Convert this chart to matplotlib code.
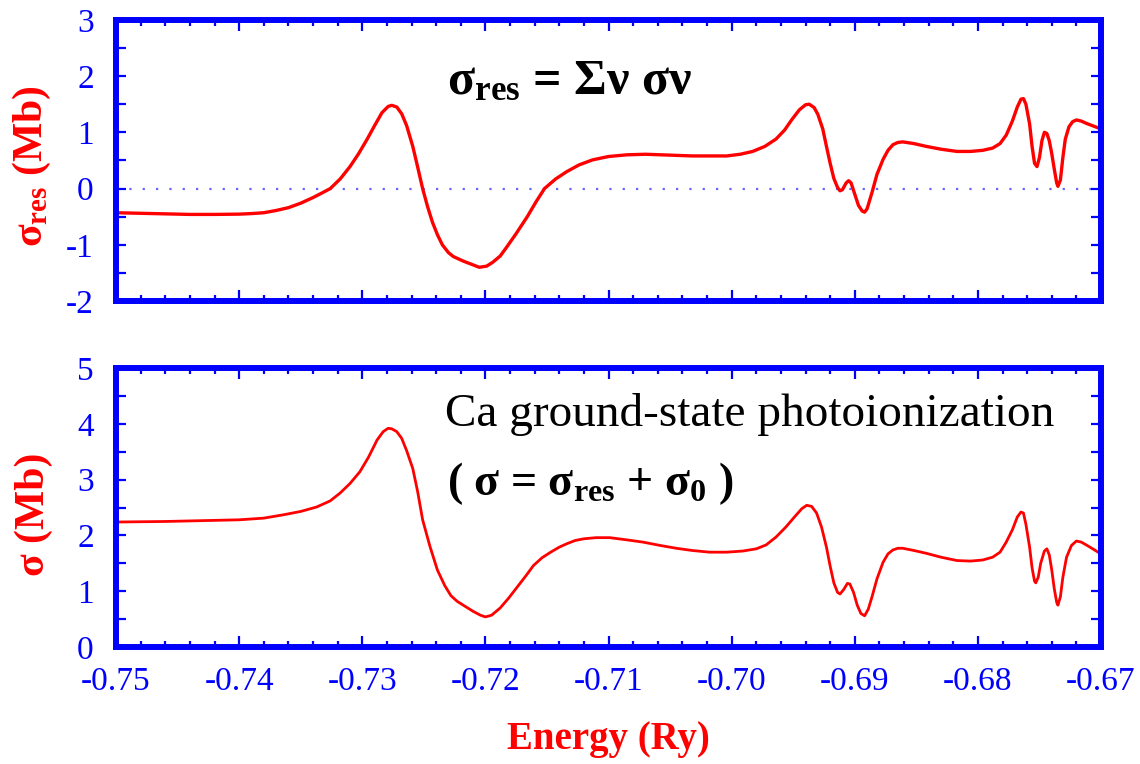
import matplotlib
matplotlib.use("Agg")
import matplotlib.pyplot as plt
from matplotlib.ticker import MultipleLocator, FormatStrFormatter

plt.rcParams['font.family'] = ['Liberation Serif', 'DejaVu Serif']
plt.rcParams['mathtext.fontset'] = 'custom'
plt.rcParams['mathtext.rm'] = 'Liberation Serif'
plt.rcParams['mathtext.bf'] = 'Liberation Serif:bold'
plt.rcParams['mathtext.it'] = 'Liberation Serif:italic'
plt.rcParams['axes.unicode_minus'] = False

# ---- data ----
energy_res = [-0.7500, -0.7480, -0.7460, -0.7440, -0.7420, -0.7400, -0.7390, -0.7380,
              -0.7370, -0.7360, -0.7350, -0.7340, -0.7332, -0.7326, -0.7318, -0.7310,
              -0.7303, -0.7296, -0.7290, -0.7284, -0.7279, -0.7276, -0.7272, -0.7268,
              -0.7264, -0.7259, -0.7255, -0.7251, -0.7247, -0.7243, -0.7239, -0.7235,
              -0.7230, -0.7226, -0.7222, -0.7218, -0.7212, -0.7205, -0.7199, -0.7194,
              -0.7188, -0.7183, -0.7175, -0.7166, -0.7159, -0.7152, -0.7143, -0.7134,
              -0.7124, -0.7113, -0.7100, -0.7085, -0.7070, -0.7058, -0.7045, -0.7032,
              -0.7018, -0.7004, -0.6993, -0.6983, -0.6973, -0.6964, -0.6957, -0.6951,
              -0.6945, -0.6940, -0.6937, -0.6933, -0.6930, -0.6926, -0.6923, -0.6920,
              -0.6917, -0.6914, -0.6912, -0.6910, -0.6907, -0.6905, -0.6903, -0.6900,
              -0.6897, -0.6894, -0.6892, -0.6890, -0.6886, -0.6882, -0.6877, -0.6873,
              -0.6869, -0.6865, -0.6861, -0.6852, -0.6842, -0.6830, -0.6817, -0.6806,
              -0.6796, -0.6788, -0.6782, -0.6777, -0.6772, -0.6768, -0.6765, -0.6763,
              -0.6761, -0.6758, -0.6756, -0.6754, -0.6752, -0.6750, -0.6748, -0.6746,
              -0.6744, -0.6742, -0.6740, -0.6738, -0.6736, -0.6735, -0.6733, -0.6731,
              -0.6729, -0.6726, -0.6723, -0.6720, -0.6716, -0.6712, -0.6706, -0.6701,
              -0.6700]
sigma_res = [-0.43, -0.44, -0.45, -0.46, -0.46, -0.455, -0.445, -0.43,
             -0.39, -0.34, -0.26, -0.16, -0.07, 0.00, 0.17, 0.39,
             0.62, 0.88, 1.12, 1.35, 1.46, 1.48, 1.45, 1.33,
             1.12, 0.75, 0.38, 0.00, -0.32, -0.60, -0.82, -1.00,
             -1.14, -1.21, -1.25, -1.29, -1.34, -1.40, -1.38, -1.31,
             -1.20, -1.05, -0.80, -0.50, -0.24, 0.00, 0.17, 0.30,
             0.42, 0.51, 0.57, 0.60, 0.61, 0.60, 0.59, 0.58,
             0.58, 0.58, 0.61, 0.66, 0.75, 0.88, 1.04, 1.23,
             1.40, 1.49, 1.50, 1.44, 1.32, 1.06, 0.75, 0.45,
             0.18, 0.02, -0.04, -0.02, 0.10, 0.14, 0.10, -0.10,
             -0.30, -0.40, -0.42, -0.36, -0.07, 0.25, 0.52, 0.68,
             0.78, 0.82, 0.83, 0.80, 0.75, 0.70, 0.66, 0.66,
             0.68, 0.72, 0.80, 0.95, 1.20, 1.45, 1.59, 1.60,
             1.50, 1.15, 0.75, 0.45, 0.39, 0.55, 0.85, 1.00,
             0.98, 0.85, 0.62, 0.35, 0.10, 0.04, 0.15, 0.55,
             0.88, 1.10, 1.19, 1.22, 1.20, 1.16, 1.11, 1.07,
             1.06]

energy_tot = [-0.7500, -0.7460, -0.7420, -0.7400, -0.7380, -0.7364, -0.7350, -0.7337,
              -0.7326, -0.7318, -0.7310, -0.7302, -0.7295, -0.7288, -0.7283, -0.7279,
              -0.7276, -0.7272, -0.7268, -0.7264, -0.7259, -0.7255, -0.7251, -0.7245,
              -0.7239, -0.7233, -0.7228, -0.7223, -0.7218, -0.7210, -0.7204, -0.7200,
              -0.7195, -0.7188, -0.7181, -0.7174, -0.7167, -0.7161, -0.7154, -0.7147,
              -0.7140, -0.7134, -0.7127, -0.7120, -0.7110, -0.7099, -0.7085, -0.7072,
              -0.7058, -0.7045, -0.7032, -0.7018, -0.7004, -0.6991, -0.6980, -0.6972,
              -0.6964, -0.6956, -0.6949, -0.6943, -0.6939, -0.6935, -0.6931, -0.6927,
              -0.6923, -0.6920, -0.6917, -0.6914, -0.6912, -0.6909, -0.6906, -0.6904,
              -0.6901, -0.6898, -0.6895, -0.6892, -0.6889, -0.6886, -0.6882, -0.6877,
              -0.6873, -0.6869, -0.6865, -0.6861, -0.6852, -0.6842, -0.6830, -0.6817,
              -0.6806, -0.6796, -0.6788, -0.6782, -0.6777, -0.6772, -0.6768, -0.6765,
              -0.6763, -0.6761, -0.6758, -0.6756, -0.6754, -0.6753, -0.6751, -0.6749,
              -0.6746, -0.6744, -0.6742, -0.6740, -0.6738, -0.6736, -0.6735, -0.6733,
              -0.6731, -0.6728, -0.6724, -0.6720, -0.6716, -0.6712, -0.6706, -0.6701,
              -0.6700]
sigma_tot = [2.24, 2.25, 2.27, 2.28, 2.31, 2.37, 2.43, 2.51,
             2.62, 2.76, 2.93, 3.14, 3.40, 3.71, 3.86, 3.92,
             3.91, 3.86, 3.74, 3.52, 3.20, 2.78, 2.28, 1.80,
             1.38, 1.10, 0.92, 0.82, 0.75, 0.64, 0.57, 0.54,
             0.57, 0.70, 0.88, 1.08, 1.28, 1.46, 1.60, 1.70,
             1.79, 1.85, 1.91, 1.94, 1.96, 1.96, 1.92, 1.88,
             1.82, 1.77, 1.73, 1.70, 1.70, 1.72, 1.76, 1.83,
             1.97, 2.15, 2.33, 2.48, 2.54, 2.52, 2.40, 2.15,
             1.79, 1.45, 1.15, 0.98, 0.95, 1.03, 1.14, 1.13,
             0.98, 0.75, 0.60, 0.56, 0.68, 0.90, 1.22, 1.52,
             1.67, 1.74, 1.77, 1.77, 1.73, 1.68, 1.61, 1.55,
             1.54, 1.56, 1.61, 1.70, 1.88, 2.10, 2.33, 2.42,
             2.40, 2.20, 1.79, 1.42, 1.18, 1.15, 1.25, 1.50,
             1.72, 1.76, 1.65, 1.38, 1.05, 0.80, 0.75, 0.90,
             1.25, 1.61, 1.82, 1.90, 1.88, 1.83, 1.75, 1.68,
             1.67]

x_ticks = [-0.75, -0.74, -0.73, -0.72, -0.71, -0.70, -0.69, -0.68, -0.67]
top_yticks = [-2, -1, 0, 1, 2, 3]
bot_yticks = [0, 1, 2, 3, 4, 5]

BLUE = '#0000ff'
RED = '#ff0000'

fig = plt.figure(figsize=(11.4, 7.64), dpi=100)
ax1 = fig.add_axes([0.1018, 0.606, 0.864, 0.368])
ax2 = fig.add_axes([0.1018, 0.1531, 0.864, 0.3652])

def style(ax, yticks):
    for s in ax.spines.values():
        s.set_color(BLUE)
        s.set_linewidth(4.3)
    ax.set_xlim(-0.75, -0.67)
    ax.set_ylim(yticks[0], yticks[-1])
    ax.set_xticks(x_ticks)
    ax.xaxis.set_minor_locator(MultipleLocator(0.002))
    ax.set_yticks(yticks)
    ax.yaxis.set_minor_locator(MultipleLocator(0.5))
    ax.yaxis.set_major_formatter(FormatStrFormatter('%d'))
    ax.xaxis.set_major_formatter(FormatStrFormatter('%.2f'))
    ax.tick_params(which='both', direction='in', top=True, right=True,
                   color=BLUE, width=1.6, labelcolor=BLUE, labelsize=24)
    ax.tick_params(axis='x', which='major', length=8, pad=14)
    ax.tick_params(axis='x', which='minor', length=4.5)
    ax.tick_params(axis='y', which='both', length=7.5, pad=16)

style(ax1, top_yticks)
style(ax2, bot_yticks)
ax1.tick_params(axis='x', labelbottom=False)

ax1.axhline(0, color=BLUE, alpha=0.6, linewidth=1.6, linestyle=(0, (1, 5)))
ax1.plot(energy_res, sigma_res, color=RED, linewidth=2.4, solid_joinstyle='round')
ax2.plot(energy_tot, sigma_tot, color=RED, linewidth=2.0, solid_joinstyle='round')

ax1.set_ylabel(r'σ$_{\mathbf{res}}$ (Mb)', color=RED, fontsize=30, fontweight='bold')
ax2.set_ylabel('σ (Mb)', color=RED, fontsize=30, fontweight='bold')
ax1.yaxis.set_label_coords(-0.064, 0.48)
ax2.yaxis.set_label_coords(-0.064, 0.477)

fig.text(608 / 1140, 1 - 740 / 764, 'Energy (Ry)', color=RED, fontsize=28,
         fontweight='bold', ha='center', va='center')

fig.text(447 / 1140, 1 - 82 / 764, r'σ$_{\mathbf{res}}$ = Σν σν', color='black',
         fontsize=36, fontweight='bold', ha='left', va='center')
fig.text(445 / 1140, 1 - 415 / 764, 'Ca ground-state photoionization', color='black',
         fontsize=34, ha='left', va='center')
fig.text(447 / 1140, 1 - 484 / 764, r'( σ = σ$_{\mathbf{res}}$ + σ$_{\mathbf{0}}$ )', color='black',
         fontsize=33, fontweight='bold', ha='left', va='center')

fig.savefig('out.png', dpi=100)
